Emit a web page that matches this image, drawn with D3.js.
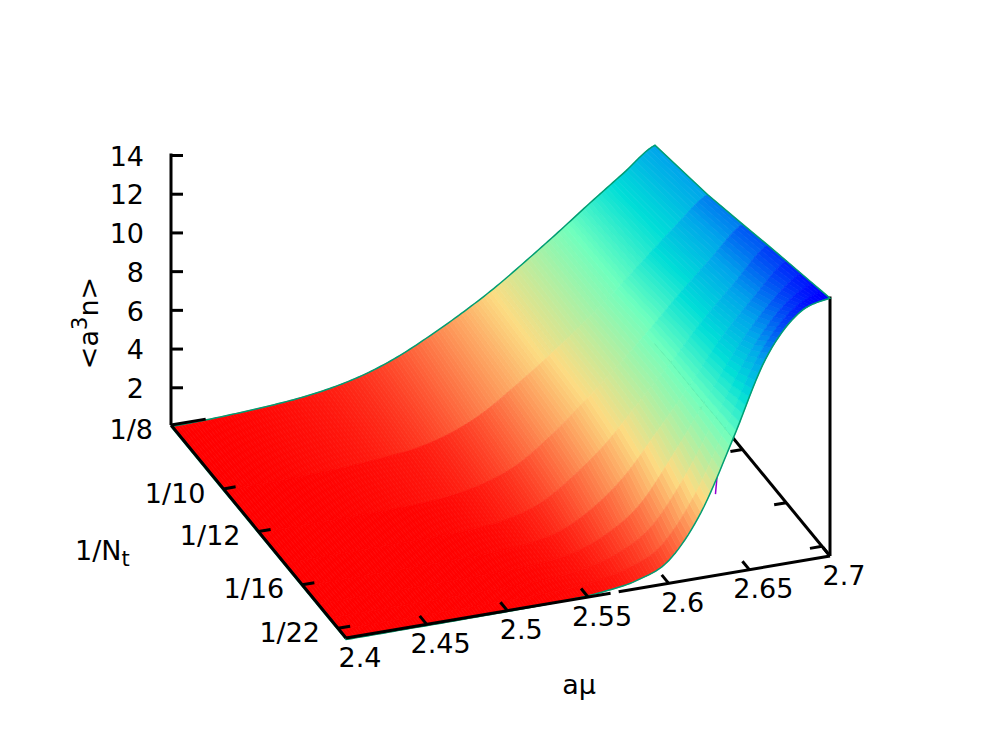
<!DOCTYPE html>
<html>
<head>
<meta charset="utf-8">
<script src="https://cdn.jsdelivr.net/npm/d3@7"></script>
<style>
  html, body { margin: 0; padding: 0; background: #fff; }
  text { font-family: "DejaVu Sans", sans-serif; font-size: 27px; fill: #000; }
</style>
</head>
<body>
<div id="chart"></div>
<script>
var muValues = [2.40, 2.42, 2.44, 2.46, 2.48, 2.50, 2.52, 2.54, 2.56, 2.58, 2.60, 2.62, 2.64, 2.66, 2.68, 2.70];
var ntValues = [8, 10, 12, 14, 16, 18, 20, 22, 24];

// density, one list per Nt
var densNt8 = [0.00, 0.03, 0.10, 0.20, 0.35, 0.60, 1.00, 1.60, 2.40, 3.30, 4.30, 5.45, 6.65, 7.90, 9.10, 10.30];
var densNt10 = [0.00, 0.01, 0.03, 0.08, 0.16, 0.30, 0.50, 0.95, 1.70, 2.80, 4.00, 5.30, 6.70, 8.20, 9.70, 11.05];
var densNt12 = [0.00, 0.01, 0.02, 0.03, 0.05, 0.10, 0.25, 0.60, 1.25, 2.40, 3.80, 5.30, 6.90, 8.60, 10.20, 11.72];
var densNt14 = [0.00, 0.00, 0.01, 0.02, 0.03, 0.05, 0.12, 0.35, 0.90, 2.00, 3.40, 5.20, 7.00, 8.90, 10.60, 12.22];
var densNt16 = [0.00, 0.00, 0.01, 0.01, 0.02, 0.03, 0.08, 0.22, 0.60, 1.50, 2.90, 4.90, 7.00, 9.20, 11.00, 12.58];
var densNt18 = [0.00, 0.00, 0.01, 0.01, 0.02, 0.03, 0.06, 0.16, 0.42, 1.10, 2.30, 4.50, 7.00, 9.50, 11.50, 12.85];
var densNt20 = [0.00, 0.00, 0.01, 0.01, 0.02, 0.03, 0.05, 0.13, 0.34, 0.85, 1.90, 4.10, 7.00, 9.90, 12.00, 13.07];
var densNt22 = [0.00, 0.00, 0.01, 0.01, 0.02, 0.03, 0.05, 0.11, 0.27, 0.65, 1.50, 3.70, 7.00, 10.40, 12.45, 13.25];
var densNt24 = [0.00, 0.00, 0.01, 0.01, 0.02, 0.03, 0.05, 0.10, 0.22, 0.50, 1.25, 3.45, 7.00, 10.80, 12.85, 13.40];

var xTicks = [2.4, 2.45, 2.5, 2.55, 2.6, 2.65, 2.7];
var xTickLabels = ["2.4", "2.45", "2.5", "2.55", "2.6", "2.65", "2.7"];
var yTicks = [8, 10, 12, 16, 22];
var yTickLabels = ["1/8", "1/10", "1/12", "1/16", "1/22"];
var zTicks = [2, 4, 6, 8, 10, 12, 14];

// small purple stray line poking out under the surface
var strayMu = [2.629, 2.630];
var strayDens = [4.2, 5.1];

var surface = [densNt8, densNt10, densNt12, densNt14, densNt16, densNt18, densNt20, densNt22, densNt24];

var width = 997,
  height = 747;

// floor corners on screen
var cornerBack = { x: 171, y: 425 },   // mu min, 1/8
  cornerFront = { x: 346, y: 638 },    // mu min, 1/24
  cornerRight = { x: 830, y: 556 };    // mu max, 1/24

var muScale = d3.scaleLinear().domain([2.4, 2.7]).range([0, 1]);
var invNtScale = d3.scaleLinear().domain([1 / 24, 1 / 8]).range([0, 1]);
var zPixels = d3.scaleLinear().domain([0, 14]).range([0, 271]);
var zAxisScale = d3.scaleLinear().domain([0, 14]).range([426, 155]);

function project(mu, invNt, dens) {
  var u = muScale(mu),
    v = invNtScale(invNt);
  return [
    cornerFront.x + u * (cornerRight.x - cornerFront.x) + v * (cornerBack.x - cornerFront.x),
    cornerFront.y + u * (cornerRight.y - cornerFront.y) + v * (cornerBack.y - cornerFront.y) - zPixels(dens)
  ];
}

// palette, high density is blue
var palette = d3.scaleLinear()
  .domain([0, 4.2, 7, 8.7, 10.3, 13.2])
  .range(["#ff0000", "#fcdc82", "#6effbe", "#00ded7", "#00a5eb", "#0000ff"])
  .clamp(true);

// catmull-rom along mu so the mesh edges come out smooth
function sampleRow(row, i, s) {
  var p0 = row[Math.max(i - 1, 0)],
    p1 = row[i],
    p2 = row[Math.min(i + 1, row.length - 1)],
    p3 = row[Math.min(i + 2, row.length - 1)];
  var val = 0.5 * (2 * p1 + (p2 - p0) * s + (2 * p0 - 5 * p1 + 4 * p2 - p3) * s * s + (3 * p1 - p0 - 3 * p2 + p3) * s * s * s);
  return Math.max(0, val);
}

var fineMu = [],
  fineIdx = [];
var steps = 10;
muValues.forEach(function(m, i) {
  if (i === muValues.length - 1) {
    fineMu.push(m);
    fineIdx.push([i - 1, 1]);
    return;
  }
  for (var k = 0; k < steps; k++) {
    fineMu.push(m + (muValues[i + 1] - m) * k / steps);
    fineIdx.push([i, k / steps]);
  }
});

function fineRow(row) {
  return fineIdx.map(function(d) {
    return sampleRow(row, d[0], d[1]);
  });
}

var fineSurface = surface.map(fineRow);

var svg = d3.select("#chart")
  .append("svg")
  .attr("width", width)
  .attr("height", height)
  .style("display", "block");

var line = d3.line();
var floorShift = 1.5; // surface sits a touch below the axis lines

function axisLine(parent, p1, p2) {
  parent.append("line")
    .attr("x1", p1[0]).attr("y1", p1[1])
    .attr("x2", p2[0]).attr("y2", p2[1])
    .attr("stroke", "#000")
    .attr("stroke-width", 3);
}

// back side of the box, the surface covers it
var backG = svg.append("g");
axisLine(backG, project(2.7, 1 / 24, 0), project(2.7, 1 / 8, 0));
yTicks.slice(1).forEach(function(nt) {
  axisLine(backG, project(2.7, 1 / nt, 0), project(2.6925, 1 / nt, 0));
});
axisLine(backG, project(2.7, 1 / 24, 0), project(2.7, 1 / 24, 13.4));

backG.append("path")
  .attr("d", line(strayMu.map(function(m, i) { return project(m, 1 / 24, strayDens[i]); })))
  .attr("fill", "none")
  .attr("stroke", "#9400d3")
  .attr("stroke-width", 1.5);

// the surface, strip by strip from the back
var surfG = svg.append("g").attr("transform", "translate(0," + floorShift + ")");
var quads = [];
for (var r = 0; r < ntValues.length - 1; r++) {
  for (var c = 0; c < fineMu.length - 1; c++) {
    quads.push({ r: r, c: c });
  }
}

// each strip takes its colour from its back row, that gives the bands
function quadColor(d) {
  return palette((fineSurface[d.r][d.c] + fineSurface[d.r][d.c + 1]) / 2);
}

surfG.selectAll("polygon")
  .data(quads)
  .enter()
  .append("polygon")
  .attr("points", function(d) {
    var a = 1 / ntValues[d.r],
      b = 1 / ntValues[d.r + 1];
    return [
      project(fineMu[d.c], a, fineSurface[d.r][d.c]),
      project(fineMu[d.c + 1], a, fineSurface[d.r][d.c + 1]),
      project(fineMu[d.c + 1], b, fineSurface[d.r + 1][d.c + 1]),
      project(fineMu[d.c], b, fineSurface[d.r + 1][d.c])
    ].join(" ");
  })
  .attr("fill", quadColor)
  .attr("stroke", quadColor)
  .attr("stroke-width", 0.7);

// outline of the mesh
var outline = [];
fineMu.forEach(function(m, i) { outline.push(project(m, 1 / 8, fineSurface[0][i])); });
ntValues.forEach(function(nt, i) { outline.push(project(2.7, 1 / nt, surface[i][15])); });
fineMu.slice().reverse().forEach(function(m, i) {
  outline.push(project(m, 1 / 24, fineSurface[8][fineMu.length - 1 - i]));
});
ntValues.slice().reverse().forEach(function(nt, i) {
  outline.push(project(2.4, 1 / nt, surface[8 - i][0]));
});

surfG.append("path")
  .attr("d", line(outline))
  .attr("fill", "none")
  .attr("stroke", "#009e73")
  .attr("stroke-width", 1.5);

// front axes on top of the surface
var axisG = svg.append("g");
axisLine(axisG, project(2.4, 1 / 8, 0), project(2.4, 1 / 24, 0));
axisLine(axisG, project(2.4, 1 / 24, 0), project(2.564, 1 / 24, 0));
axisLine(axisG, project(2.569, 1 / 24, 0), project(2.7, 1 / 24, 0));

xTicks.forEach(function(m, i) {
  var p = project(m, 1 / 24, 0);
  if (m > 2.4) axisLine(axisG, p, project(m, 1 / 24 + 0.0033, 0));
  axisG.append("text")
    .attr("x", p[0] + 14).attr("y", p[1] + 19)
    .attr("dy", "0.36em")
    .attr("text-anchor", "middle")
    .text(xTickLabels[i]);
});

yTicks.forEach(function(nt, i) {
  var p = project(2.4, 1 / nt, 0);
  // first one runs further along the back edge
  axisLine(axisG, p, project(i === 0 ? 2.4215 : 2.4075, 1 / nt, 0));
  axisG.append("text")
    .attr("x", p[0] - 18).attr("y", p[1] + 4)
    .attr("dy", "0.36em")
    .attr("text-anchor", "end")
    .text(yTickLabels[i]);
});

// z axis, ticks inside and labels outside
var zAxis = d3.axisLeft(zAxisScale)
  .tickValues(zTicks)
  .tickSize(-12)
  .tickSizeOuter(0)
  .tickPadding(27)
  .tickFormat(d3.format("d"));

var zG = svg.append("g")
  .attr("transform", "translate(" + cornerBack.x + ",0)")
  .call(zAxis);
zG.select(".domain").remove();
zG.selectAll("line").attr("stroke", "#000").attr("stroke-width", 3);
zG.selectAll("text").style("font-family", '"DejaVu Sans", sans-serif').style("font-size", "27px").attr("fill", "#000").attr("dy", "0.38em");
axisLine(svg, [cornerBack.x, zAxisScale(14) - 1.5], [cornerBack.x, cornerBack.y]);

// axis titles
svg.append("text")
  .attr("x", 579).attr("y", 684)
  .attr("dy", "0.36em")
  .attr("text-anchor", "middle")
  .text("aμ");

var ntTitle = svg.append("text").attr("x", 75).attr("y", 560);
ntTitle.append("tspan").text("1/N");
ntTitle.append("tspan").attr("dy", 6).style("font-size", "21px").text("t");

var densTitle = svg.append("text")
  .attr("transform", "translate(98,323) rotate(-90)")
  .attr("text-anchor", "middle");
densTitle.append("tspan").text("<a");
densTitle.append("tspan").attr("dy", -11).style("font-size", "21px").text("3");
densTitle.append("tspan").attr("dy", 11).text("n>");
</script>
</body>
</html>
